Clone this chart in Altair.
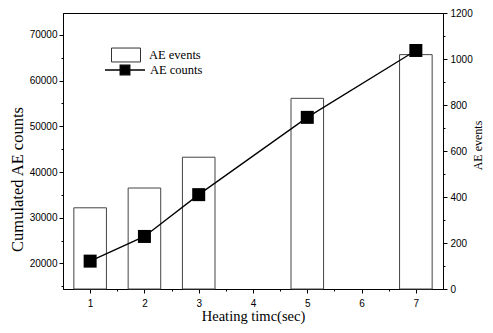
import altair as alt
import pandas as pd

# Data
heating_time = [1, 2, 3, 5, 7]
ae_events = [353, 439, 573, 829, 1019]          # right axis (bars)
ae_counts = [20500, 25900, 35050, 51960, 66600]  # left axis (line + squares)

df = pd.DataFrame({
    "t": heating_time,
    "events": ae_events,
    "counts": ae_counts,
    "s_bar": ["AE events"] * len(heating_time),
    "s_line": ["AE counts"] * len(heating_time),
})

serif = "Liberation Serif"
sans = "Liberation Sans"

x_axis = alt.Axis(
    title="Heating timc(sec)",
    values=[1, 1.5, 2, 2.5, 3, 3.5, 4, 4.5, 5, 5.5, 6, 6.5, 7],
    labelExpr="datum.value % 1 == 0 ? format(datum.value, 'd') : ''",
    tickSize={"condition": {"test": "datum.value % 1 == 0", "value": 4}, "value": 2},
    labelOverlap=False,
    labelPadding=5,
    titlePadding=1,
    titleFontSize=14.5,
    grid=False,
)
x_scale = alt.Scale(domain=[0.5, 7.5], nice=False, zero=False)

left_axis = alt.Axis(
    orient="left",
    title="Cumulated AE counts",
    values=list(range(15000, 70001, 5000)),
    labelExpr="datum.value % 10000 == 0 ? format(datum.value, 'd') : ''",
    tickSize={"condition": {"test": "datum.value % 10000 == 0", "value": 4}, "value": 2},
    labelOverlap=False,
    labelPadding=2,
    titlePadding=4,
    titleFontSize=16.5,
    titleY=166,
    grid=False,
)
left_scale = alt.Scale(domain=[14400, 74800], nice=False, zero=False)

bars = (
    alt.Chart(df)
    .transform_calculate(x0="datum.t - 0.3", x1="datum.t + 0.3")
    .mark_bar(stroke="#444444", strokeWidth=1)
    .encode(
        x=alt.X("x0:Q", scale=x_scale, axis=x_axis),
        x2="x1:Q",
        y=alt.Y(
            "events:Q",
            scale=alt.Scale(domain=[0, 1200], nice=False),
            axis=alt.Axis(
                orient="right",
                title="AE events",
                values=list(range(0, 1201, 100)),
                labelExpr="datum.value % 200 == 0 ? format(datum.value, 'd') : ''",
                tickSize={"condition": {"test": "datum.value % 200 == 0", "value": 4}, "value": 2},
                labelOverlap=False,
                labelPadding=3,
                titleFontSize=12,
                titleAngle=270,
                titleBaseline="middle",
                titleAlign="center",
                titleX=34,
                titleY=132,
                grid=False,
            ),
        ),
        y2=alt.datum(0),
        fill=alt.Fill(
            "s_bar:N",
            scale=alt.Scale(range=["white"]),
            legend=alt.Legend(
                title=None,
                orient="none",
                legendX=48,
                legendY=27,
                padding=0,
                symbolType="M-1,-0.48H1V0.48H-1Z",
                symbolSize=841,
                symbolStrokeColor="#333333",
                symbolStrokeWidth=1,
                labelFont=serif,
                labelFontSize=12.5,
                labelColor="black",
                labelOffset=8,
            ),
        ),
    )
)

line = (
    alt.Chart(df)
    .mark_line(color="black", strokeWidth=1.3)
    .encode(
        x=alt.X("t:Q", scale=x_scale, axis=x_axis),
        y=alt.Y("counts:Q", scale=left_scale, axis=left_axis),
    )
)

points = (
    alt.Chart(df)
    .mark_point(shape="square", filled=True, size=169, opacity=1)
    .encode(
        x=alt.X("t:Q", scale=x_scale, axis=x_axis),
        y=alt.Y("counts:Q", scale=left_scale, axis=left_axis),
        color=alt.Color(
            "s_line:N",
            scale=alt.Scale(range=["black"]),
            legend=alt.Legend(
                title=None,
                orient="none",
                legendX=41,
                legendY=36,
                padding=0,
                symbolType="M-1,0H-0.24M0.24,0H1M-0.24,-0.24H0.24V0.24H-0.24Z",
                symbolSize=1600,
                symbolFillColor="black",
                symbolStrokeColor="black",
                symbolStrokeWidth=1.3,
                labelFont=serif,
                labelFontSize=12.5,
                labelColor="black",
                labelOffset=4,
            ),
        ),
    )
)

left_layer = alt.layer(line, points)

chart = (
    alt.layer(bars, left_layer)
    .resolve_scale(y="independent", fill="independent", color="independent")
    .properties(
        width=380,
        height=276,
        autosize=alt.AutoSizeParams(type="none"),
        padding={"left": 55, "top": 5, "right": 42, "bottom": 36},
        background="white",
    )
    .configure_view(stroke="black", strokeWidth=1)
    .configure_axis(
        domainColor="black",
        tickColor="black",
        labelColor="black",
        titleColor="black",
        labelFont=sans,
        labelFontSize=10,
        titleFont=serif,
        titleFontSize=14,
        titleFontWeight="normal",
    )
)

chart.save("out.html", embed_options={"renderer": "svg", "actions": False})
